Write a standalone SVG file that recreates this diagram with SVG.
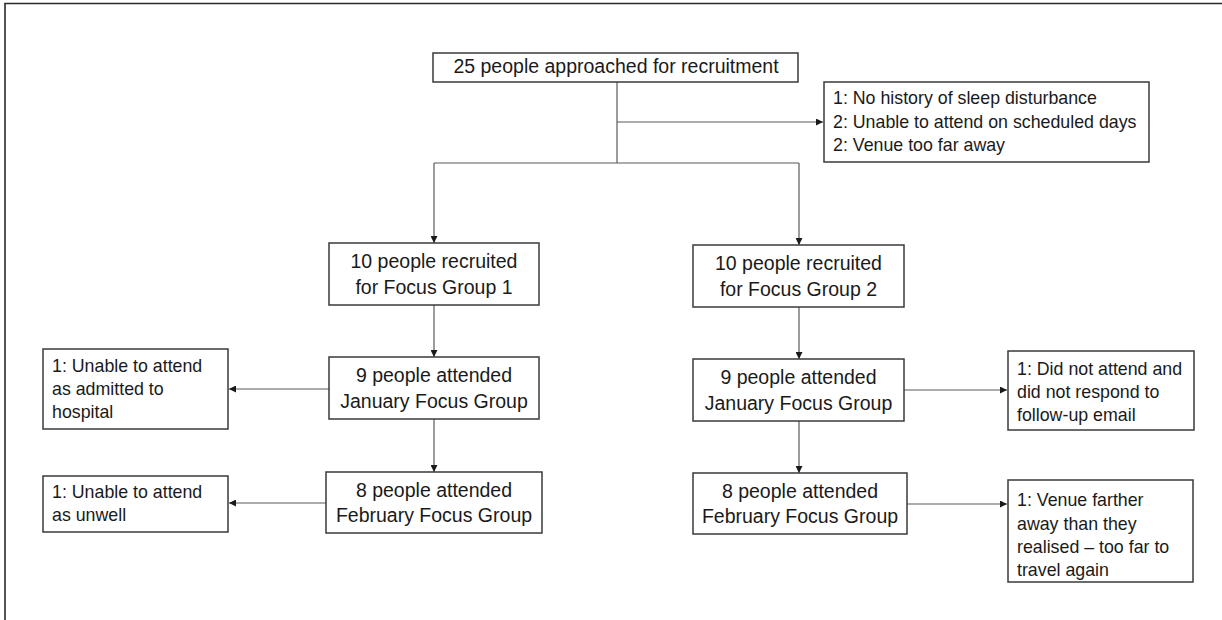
<svg xmlns="http://www.w3.org/2000/svg" width="1222" height="620" viewBox="0 0 1222 620">
<style>
.box{fill:#fff;stroke:#3a3a3a;stroke-width:1.5}
.t{font-family:"Liberation Sans",Arial,sans-serif;font-size:19.5px;fill:#1a1a1a;text-anchor:middle}
.s{font-family:"Liberation Sans",Arial,sans-serif;font-size:17.8px;fill:#1a1a1a}
.c{fill:none;stroke:#5a5a5a;stroke-width:1.2}
.frame{fill:none;stroke:#2a2a2a;stroke-width:1.6}
</style>
<defs>
<marker id="ah" viewBox="0 0 10 10" refX="10" refY="5" markerWidth="7" markerHeight="7" markerUnits="userSpaceOnUse" orient="auto">
<path d="M0,0 L10,5 L0,10 Z" fill="#1a1a1a"/>
</marker>
</defs>
<rect width="1222" height="620" fill="#fff"/>
<path class="frame" d="M5,620 L5,3.5 L1222,3.5"/>
<g id="connectors">
<path class="c" d="M617,82 V163"/>
<path class="c" d="M617,122 H823" marker-end="url(#ah)"/>
<path class="c" d="M434,163 H799"/>
<path class="c" d="M434,163 V243" marker-end="url(#ah)"/>
<path class="c" d="M799,163 V245" marker-end="url(#ah)"/>
<path class="c" d="M434,305 V357" marker-end="url(#ah)"/>
<path class="c" d="M434,419 V472" marker-end="url(#ah)"/>
<path class="c" d="M799,307 V359" marker-end="url(#ah)"/>
<path class="c" d="M799,421 V473" marker-end="url(#ah)"/>
<path class="c" d="M329,389 H229" marker-end="url(#ah)"/>
<path class="c" d="M326,503 H229" marker-end="url(#ah)"/>
<path class="c" d="M904,390 H1007" marker-end="url(#ah)"/>
<path class="c" d="M907,504 H1007" marker-end="url(#ah)"/>
</g>
<g id="n-approached">
<rect class="box" x="433" y="53" width="365" height="29"/>
<text class="t" x="616" y="73">25 people approached for recruitment</text>
</g>
<g id="n-excluded">
<rect class="box" x="824" y="82" width="325" height="80"/>
<text class="s" x="833" y="104">1: No history of sleep disturbance</text>
<text class="s" x="833" y="128">2: Unable to attend on scheduled days</text>
<text class="s" x="833" y="151">2: Venue too far away</text>
</g>
<g id="n-fg1">
<rect class="box" x="329" y="243" width="210" height="62"/>
<text class="t" x="434" y="268">10 people recruited</text>
<text class="t" x="434" y="294">for Focus Group 1</text>
</g>
<g id="n-fg2">
<rect class="box" x="693" y="245" width="211" height="62"/>
<text class="t" x="798.5" y="270">10 people recruited</text>
<text class="t" x="798.5" y="296">for Focus Group 2</text>
</g>
<g id="n-jan1">
<rect class="box" x="329" y="357" width="210" height="62"/>
<text class="t" x="434" y="382">9 people attended</text>
<text class="t" x="434" y="408">January Focus Group</text>
</g>
<g id="n-jan2">
<rect class="box" x="693" y="359" width="211" height="62"/>
<text class="t" x="798.5" y="384">9 people attended</text>
<text class="t" x="798.5" y="410">January Focus Group</text>
</g>
<g id="n-feb1">
<rect class="box" x="326" y="472" width="216" height="61"/>
<text class="t" x="434" y="497">8 people attended</text>
<text class="t" x="434" y="522">February Focus Group</text>
</g>
<g id="n-feb2">
<rect class="box" x="693" y="473" width="214" height="61"/>
<text class="t" x="800" y="498">8 people attended</text>
<text class="t" x="800" y="523">February Focus Group</text>
</g>
<g id="n-left1">
<rect class="box" x="43" y="349" width="185" height="80"/>
<text class="s" x="52" y="372">1: Unable to attend</text>
<text class="s" x="52" y="395">as admitted to</text>
<text class="s" x="52" y="418">hospital</text>
</g>
<g id="n-left2">
<rect class="box" x="43" y="476" width="185" height="56"/>
<text class="s" x="52" y="498">1: Unable to attend</text>
<text class="s" x="52" y="521">as unwell</text>
</g>
<g id="n-right1">
<rect class="box" x="1008" y="351" width="186" height="79"/>
<text class="s" x="1017" y="375">1: Did not attend and</text>
<text class="s" x="1017" y="398">did not respond to</text>
<text class="s" x="1017" y="421">follow-up email</text>
</g>
<g id="n-right2">
<rect class="box" x="1008" y="480" width="185" height="102"/>
<text class="s" x="1017" y="506">1: Venue farther</text>
<text class="s" x="1017" y="530">away than they</text>
<text class="s" x="1017" y="553">realised – too far to</text>
<text class="s" x="1017" y="576">travel again</text>
</g>
</svg>
